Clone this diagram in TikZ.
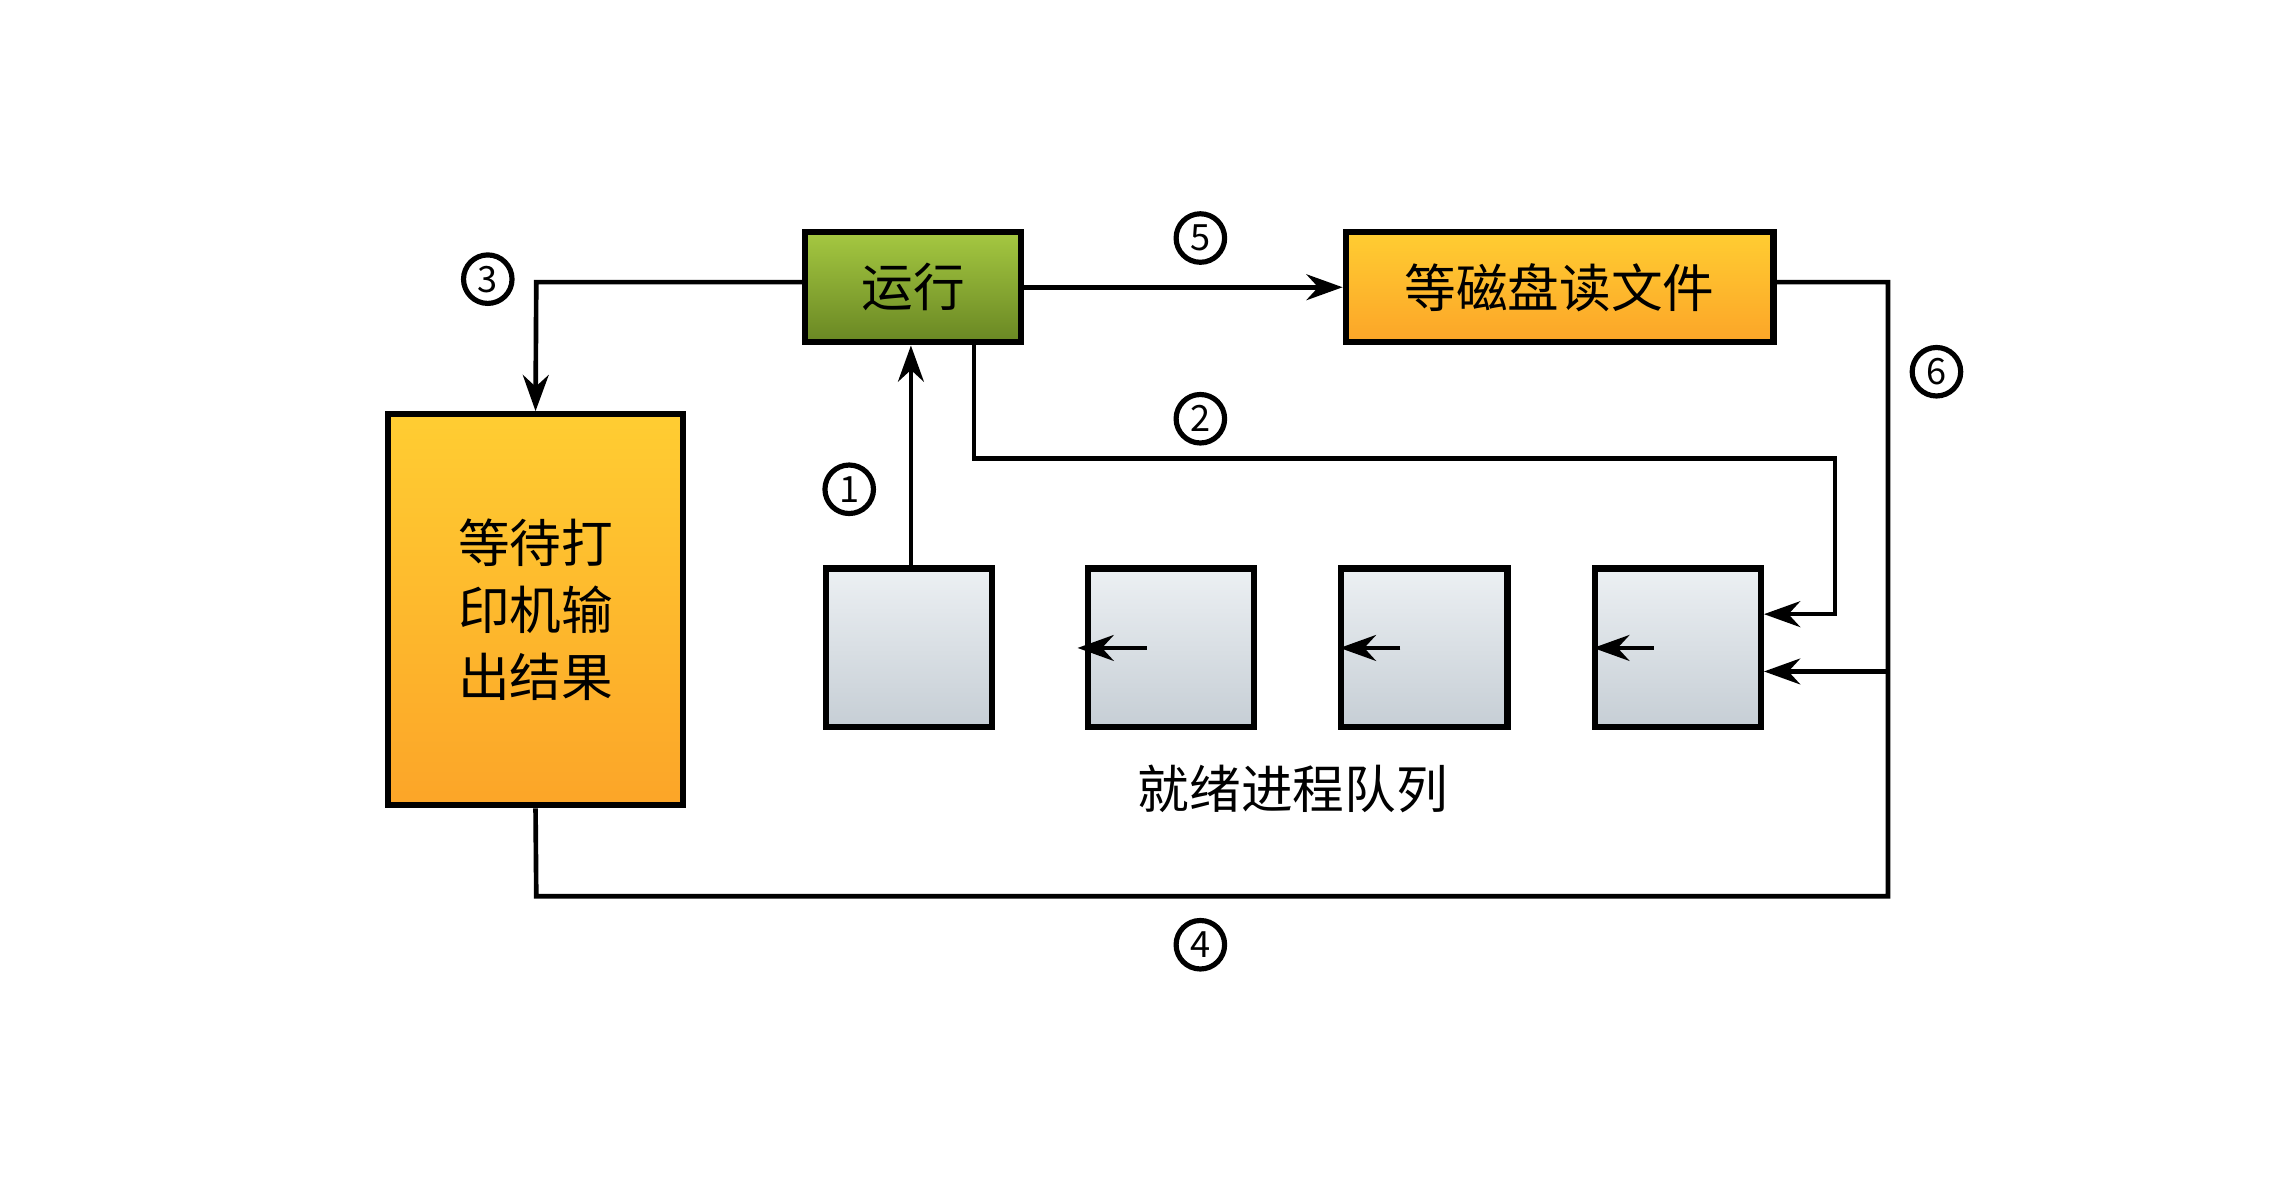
\documentclass[tikz,border=0pt]{standalone}
\usepackage{fontspec}
\setmainfont{Noto Sans CJK SC}
\usetikzlibrary{positioning,arrows.meta}
\definecolor{runTop}{RGB}{165,200,65}
\definecolor{runBottom}{RGB}{105,135,35}
\definecolor{waitTop}{RGB}{255,205,50}
\definecolor{waitBottom}{RGB}{252,165,40}
\definecolor{queueTop}{RGB}{236,240,243}
\definecolor{queueBottom}{RGB}{198,206,213}
\tikzstyle{box} = [draw=black, line width=1.2pt, inner sep=0pt, font=\fontsize{10}{13}\selectfont]
\tikzstyle{runBox} = [box, top color=runTop, bottom color=runBottom, minimum width=1.47cm, minimum height=0.75cm]
\tikzstyle{waitBox} = [box, top color=waitTop, bottom color=waitBottom]
\tikzstyle{queueBox} = [box, top color=queueTop, bottom color=queueBottom, minimum width=1.13cm, minimum height=1.08cm]
\tikzstyle{num} = [draw, circle, line width=1pt, minimum size=0.33cm, inner sep=0pt, font=\fontsize{7}{8}\selectfont]
\tikzstyle{link} = [line width=0.9pt]
\tikzstyle{arrowLink} = [link, -{Stealth[length=7pt,width=5pt]}]
\begin{document}
\begin{tikzpicture}[x=0.01cm, y=-0.01cm]
  \useasboundingbox (0,0) rectangle (1560,802);
  % main states
  \node [runBox] (run) at (621.5,195.5) {运行};
  \node [waitBox, minimum width=2.91cm, minimum height=0.75cm] (disk) at (1061.5,195.5) {等磁盘读文件};
  \node [waitBox, minimum width=2.01cm, minimum height=2.66cm, align=center] (print) at (364.5,415) {等待打\\印机输\\出结果};
  % ready queue
  \node [queueBox] (q1) at (618.5,441) {};
  \node [queueBox] (q2) at (797,441) {};
  \node [queueBox] (q3) at (969.5,441) {};
  \node [queueBox] (q4) at (1142,441) {};
  \node [font=\fontsize{10}{12}\selectfont] (qlabel) at (880,537) {就绪进程队列};
  \foreach \from/\to in {q2/q1, q3/q2, q4/q3}
    \draw [arrowLink] ([xshift=12pt]\from.west) -- ([xshift=16pt]\to.east);
  % numbers
  \node [num] (n1) at (578,333) {1};
  \node [num] (n2) at (817,285) {2};
  \node [num] (n3) at (332,190) {3};
  \node [num] (n4) at (817,643) {4};
  \node [num] (n5) at (817,162) {5};
  \node [num] (n6) at (1318,253) {6};
  % transitions
  \coordinate (c3) at (365,192);
  \draw [arrowLink] (run.west |- 0,192) -- (c3) -- (print.north);
  \draw [arrowLink] (run.east) -- (disk.west);
  \coordinate (c2a) at (663,312);
  \coordinate (c2b) at (1249,312);
  \coordinate (c2c) at (1249,418);
  \draw [arrowLink] (run.south -| c2a) -- (c2a) -- (c2b) -- (c2c) -- (q4.east |- c2c);
  \draw [arrowLink] (q1.north -| 620,0) -- (run.south -| 620,0);
  \coordinate (c6a) at (1285,192);
  \coordinate (c6b) at (1285,610);
  \coordinate (c6c) at (365,610);
  \coordinate (c6d) at (1285,457);
  \draw [link] (disk.east |- c6a) -- (c6a) -- (c6b) -- (c6c) -- (print.south);
  \draw [arrowLink] (c6d) -- (q4.east |- c6d);
\end{tikzpicture}
\end{document}
